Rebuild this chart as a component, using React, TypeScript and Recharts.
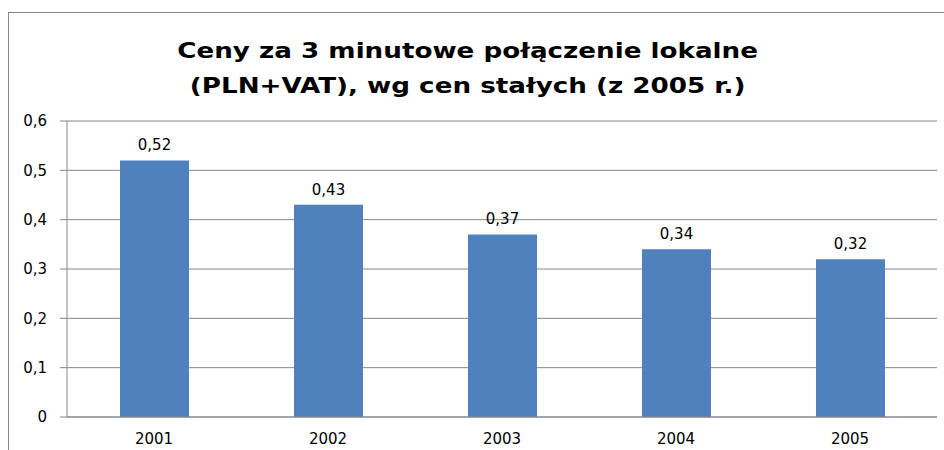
import { BarChart, Bar, XAxis, YAxis, CartesianGrid, LabelList } from "recharts";

const years = ["2001", "2002", "2003", "2004", "2005"];
const prices = [0.52, 0.43, 0.37, 0.34, 0.32];
const yTicks = [0, 0.1, 0.2, 0.3, 0.4, 0.5, 0.6];
const edgeTicks = [0, 1, 2, 3, 4, 5];
const titleLines = ["Ceny za 3 minutowe połączenie lokalne", "(PLN+VAT), wg cen stałych (z 2005 r.)"];

const data = years.map((year, i) => ({ year, price: prices[i] }));

const fmt = (v: number) => String(v).replace(".", ",");
const tickFont = { fontSize: 15, fill: "#000", fontFamily: "DejaVu Sans" };

export default function App() {
  return (
    <div
      style={{
        position: "absolute",
        left: 0,
        top: 0,
        width: 944,
        height: 450,
        background: "#fff",
        overflow: "hidden",
      }}
    >
      {/* frame (cut off right and bottom) */}
      <div
        style={{
          position: "absolute",
          left: 8,
          top: 12,
          width: 960,
          height: 480,
          border: "1px solid #868686",
        }}
      />
      <div
        style={{
          position: "absolute",
          left: 0,
          top: 33,
          width: 935,
          textAlign: "center",
          fontFamily: "DejaVu Sans",
          fontWeight: "bold",
          fontSize: 22,
          lineHeight: "35px",
          color: "#000",
          transform: "scaleX(1.19)",
          transformOrigin: "467px 0",
        }}
      >
        {titleLines.map((t) => (
          <div key={t}>{t}</div>
        ))}
      </div>
      <BarChart
        width={944}
        height={450}
        data={data}
        margin={{ top: 121, right: 7, left: 7, bottom: 0 }}
        style={{ position: "absolute", left: 0, top: 0 }}
      >
        <CartesianGrid horizontal vertical={false} stroke="#868686" />
        <XAxis
          xAxisId="edges"
          type="number"
          domain={[0, 5]}
          ticks={edgeTicks}
          height={0}
          axisLine={false}
          tickSize={6}
          tickLine={{ stroke: "#868686" }}
          tick={() => <g />}
        />
        <XAxis
          dataKey="year"
          height={33}
          axisLine={{ stroke: "#868686" }}
          tickLine={false}
          tickSize={6}
          tickMargin={10}
          tick={tickFont}
        />
        <YAxis
          width={60}
          domain={[0, 0.6]}
          ticks={yTicks}
          tickFormatter={fmt}
          axisLine={{ stroke: "#868686" }}
          tickLine={{ stroke: "#868686" }}
          tickSize={7}
          tickMargin={13}
          tick={tickFont}
        />
        <Bar dataKey="price" fill="#4F81BD" barSize={69} isAnimationActive={false}>
          <LabelList
            dataKey="price"
            position="top"
            offset={10}
            formatter={(v: any) => fmt(v)}
            style={{ fontSize: 15, fill: "#000", fontFamily: "DejaVu Sans" }}
          />
        </Bar>
      </BarChart>
    </div>
  );
}
